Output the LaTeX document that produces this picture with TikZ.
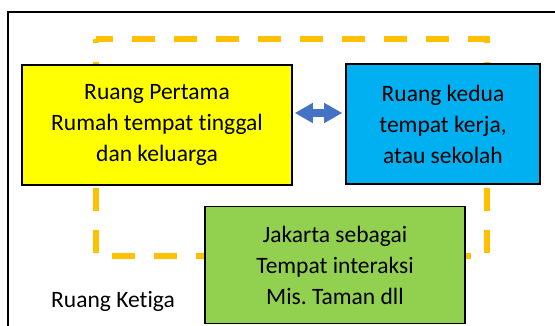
\documentclass[tikz,border=0pt]{standalone}
\usepackage{fontspec}
\setmainfont{Carlito}[Ligatures={NoCommon}]
\usetikzlibrary{arrows.meta}
\definecolor{boxyellow}{HTML}{FFFF00}
\definecolor{boxblue}{HTML}{00B0F0}
\definecolor{boxgreen}{HTML}{92D050}
\definecolor{dashgold}{HTML}{FFC000}
\definecolor{arrowblue}{HTML}{4472C4}
\tikzset{
  spacebox/.style={draw=black, line width=1.6pt, align=center, inner sep=0pt,
    font=\fontsize{23.5}{31}\selectfont},
  dashframe/.style={draw=dashgold, line width=6.5pt, dash pattern=on 23pt off 19pt, dash phase=6pt},
  linkarrow/.style={draw=arrowblue, line width=8pt,
    {Triangle[length=18pt,width=19pt]}-{Triangle[length=18pt,width=19pt]}},
}
\frenchspacing
\begin{document}
\begin{tikzpicture}[x=1pt,y=-1pt]
\useasboundingbox (0,0) rectangle (555,326);
\fill[white] (0,0) rectangle (555,326);
% outer frame
\draw[line width=2pt] (8,340) -- (8,12) -- (570,12);
% dashed frame
\draw[dashframe] (96,39) -- (487,39) -- (487,256) -- (96,256) -- cycle;
% boxes
\node[spacebox, fill=boxyellow, minimum width=270pt, minimum height=120pt] (first) at (157,125)
  {Ruang Pertama\\Rumah tempat tinggal\\dan keluarga};
\node[spacebox, fill=boxblue, minimum width=194pt, minimum height=120pt] (second) at (443,124)
  {Ruang kedua\\tempat kerja,\\atau sekolah};
\node[spacebox, fill=boxgreen, minimum width=260pt, minimum height=117pt] (third) at (335,265)
  {Jakarta sebagai\\Tempat interaksi\\Mis. Taman dll};
\node[font=\fontsize{23.5}{31}\selectfont, inner sep=0pt] (label) at (113,301) {Ruang Ketiga};
% arrow
\coordinate (a1) at (first.east |- 0,113);
\coordinate (a2) at (second.west |- 0,113);
\draw[linkarrow, shorten <=2pt, shorten >=3pt] (a1) -- (a2);
\end{tikzpicture}
\end{document}
